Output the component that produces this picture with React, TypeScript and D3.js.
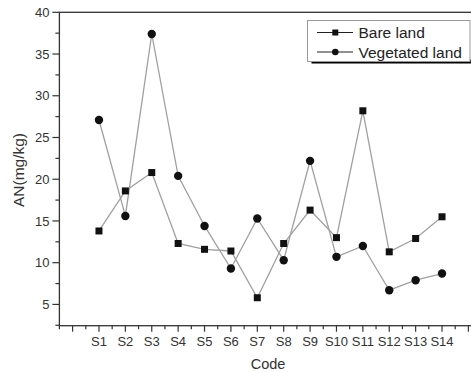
import { useEffect, useRef } from 'react'
import * as d3 from 'd3'

const codes = ['S1', 'S2', 'S3', 'S4', 'S5', 'S6', 'S7', 'S8', 'S9', 'S10', 'S11', 'S12', 'S13', 'S14']
const bareLand = [13.8, 18.6, 20.8, 12.3, 11.6, 11.4, 5.8, 12.3, 16.3, 13.0, 28.2, 11.3, 12.9, 15.5]
const vegetatedLand = [27.1, 15.6, 37.4, 20.4, 14.4, 9.3, 15.3, 10.3, 22.2, 10.7, 12.0, 6.7, 7.9, 8.7]
const yTicks = [5, 10, 15, 20, 25, 30, 35, 40]
const seriesNames = ['Bare land', 'Vegetated land']

export default function App() {
  const svgRef = useRef<SVGSVGElement>(null)
  const width = 471
  const height = 372

  useEffect(() => {
    document.body.style.margin = '0'
    if (!svgRef.current) return
    const svg = d3.select(svgRef.current)
    svg.selectAll('*').remove()

    const font = 'Liberation Sans, Arial, sans-serif'
    const axisColor = '#333'
    const lineColor = '#a0a0a0'

    // index scale: S1 -> 1 ... S14 -> 14, frame from -0.5 to 15.5
    const x = d3.scaleLinear().domain([-0.5, 15.5]).range([59.4, 481.6])
    const y = d3.scaleLinear().domain([2.45, 40]).range([325.7, 12.3])

    const left = x(-0.5)
    const right = x(15.5)
    const top = y(40)
    const bottom = y(2.45)

    // frame
    svg
      .append('rect')
      .attr('x', left)
      .attr('y', top)
      .attr('width', right - left)
      .attr('height', bottom - top)
      .attr('fill', 'none')
      .attr('stroke', axisColor)
      .attr('stroke-width', 1.3)

    // y ticks
    const yMinor = d3.range(2.5, 40.01, 2.5).filter((v) => !yTicks.includes(v))
    yTicks.forEach((v) => {
      svg
        .append('line')
        .attr('x1', left - 7)
        .attr('x2', left)
        .attr('y1', y(v))
        .attr('y2', y(v))
        .attr('stroke', axisColor)
        .attr('stroke-width', 1.2)
      svg
        .append('text')
        .attr('x', left - 10)
        .attr('y', y(v))
        .attr('dy', '0.36em')
        .attr('text-anchor', 'end')
        .attr('font-family', font)
        .attr('font-size', '13px')
        .attr('fill', axisColor)
        .text(v)
    })
    yMinor.forEach((v) => {
      svg
        .append('line')
        .attr('x1', left - 4)
        .attr('x2', left)
        .attr('y1', y(v))
        .attr('y2', y(v))
        .attr('stroke', axisColor)
        .attr('stroke-width', 1.2)
    })

    // x ticks
    d3.range(0, 16).forEach((i) => {
      svg
        .append('line')
        .attr('x1', x(i))
        .attr('x2', x(i))
        .attr('y1', bottom)
        .attr('y2', bottom + 6)
        .attr('stroke', axisColor)
        .attr('stroke-width', 1.2)
    })
    d3.range(-0.5, 15.6, 1).forEach((i) => {
      svg
        .append('line')
        .attr('x1', x(i))
        .attr('x2', x(i))
        .attr('y1', bottom)
        .attr('y2', bottom + 3.5)
        .attr('stroke', axisColor)
        .attr('stroke-width', 1.2)
    })
    codes.forEach((c, i) => {
      svg
        .append('text')
        .attr('x', x(i + 1))
        .attr('y', bottom + 20)
        .attr('text-anchor', 'middle')
        .attr('font-family', font)
        .attr('font-size', '13px')
        .attr('fill', axisColor)
        .text(c)
    })

    // axis titles
    svg
      .append('text')
      .attr('x', 268)
      .attr('y', 369)
      .attr('text-anchor', 'middle')
      .attr('font-family', font)
      .attr('font-size', '14.5px')
      .attr('fill', axisColor)
      .text('Code')

    svg
      .append('text')
      .attr('transform', 'translate(24,170) rotate(-90)')
      .attr('text-anchor', 'middle')
      .attr('font-family', font)
      .attr('font-size', '15.5px')
      .attr('fill', axisColor)
      .text('AN(mg/kg)')

    // series lines
    const line = d3
      .line<number>()
      .x((_, i) => x(i + 1))
      .y((d) => y(d))

    ;[bareLand, vegetatedLand].forEach((values) => {
      svg
        .append('path')
        .datum(values)
        .attr('fill', 'none')
        .attr('stroke', lineColor)
        .attr('stroke-width', 1.3)
        .attr('d', line)
    })

    // markers
    svg
      .selectAll('.sq')
      .data(bareLand)
      .enter()
      .append('rect')
      .attr('x', (_, i) => x(i + 1) - 3.5)
      .attr('y', (d) => y(d) - 3.5)
      .attr('width', 7)
      .attr('height', 7)
      .attr('fill', '#111')

    svg
      .selectAll('.ci')
      .data(vegetatedLand)
      .enter()
      .append('circle')
      .attr('cx', (_, i) => x(i + 1))
      .attr('cy', (d) => y(d))
      .attr('r', 4.2)
      .attr('fill', '#111')

    // legend
    const legend = svg.append('g')
    legend
      .append('rect')
      .attr('x', 311.5)
      .attr('y', 59.5)
      .attr('width', 160)
      .attr('height', 4)
      .attr('fill', '#000')
    legend
      .append('rect')
      .attr('x', 307.5)
      .attr('y', 20.5)
      .attr('width', 162.5)
      .attr('height', 41)
      .attr('fill', '#fff')
      .attr('stroke', '#999')
      .attr('stroke-width', 1)

    seriesNames.forEach((name, i) => {
      const cy = 32.5 + i * 19.5
      legend
        .append('line')
        .attr('x1', 317)
        .attr('x2', 353)
        .attr('y1', cy)
        .attr('y2', cy)
        .attr('stroke', '#222')
        .attr('stroke-width', 1)
      if (i === 0) {
        legend
          .append('rect')
          .attr('x', 335.3 - 3)
          .attr('y', cy - 3)
          .attr('width', 6)
          .attr('height', 6)
          .attr('fill', '#111')
      } else {
        legend
          .append('circle')
          .attr('cx', 335.3)
          .attr('cy', cy)
          .attr('r', 3.3)
          .attr('fill', '#111')
      }
      legend
        .append('text')
        .attr('x', 358.5)
        .attr('y', cy)
        .attr('dy', '0.36em')
        .attr('font-family', font)
        .attr('font-size', '15.5px')
        .attr('fill', '#222')
        .text(name)
    })
  }, [])

  return <svg ref={svgRef} width={width} height={height} style={{ display: 'block', background: '#fff' }} />
}
